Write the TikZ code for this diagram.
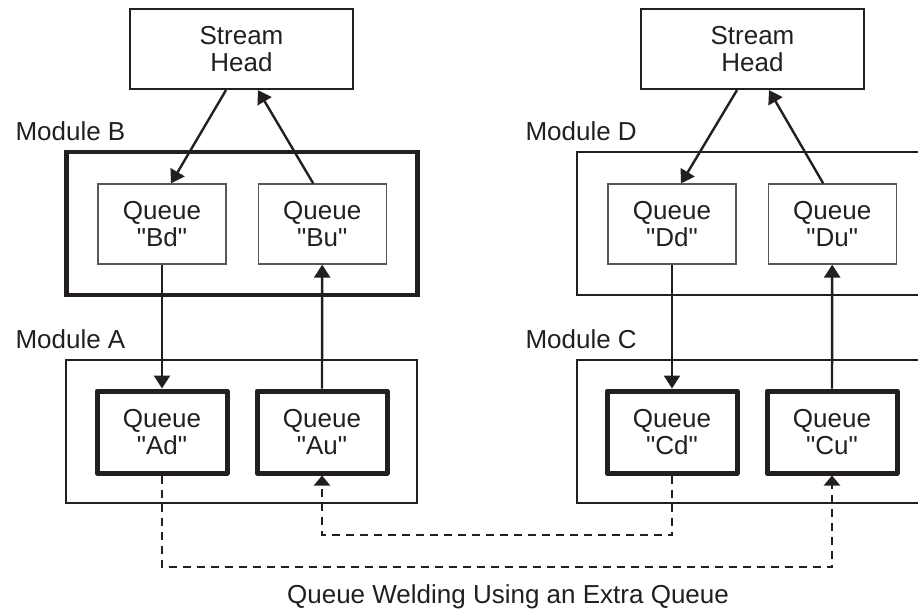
\documentclass[tikz,border=0pt]{standalone}
\usepackage{fontspec}
\setmainfont{Liberation Sans}[Ligatures=TeXOff]
\usetikzlibrary{arrows.meta, positioning}
\definecolor{ink}{RGB}{35,31,32}

\begin{document}
\begin{tikzpicture}[
  x=1pt, y=1pt,
  every node/.style={font=\fontsize{26}{27}\selectfont, text=ink},
  head/.style={draw=ink, line width=2.2pt, minimum width=223pt,
               minimum height=80pt, align=center, inner sep=0pt},
  queue/.style={draw=ink!75, line width=1.2pt, minimum width=128pt,
                minimum height=80pt, align=center, inner sep=0pt},
  qthick/.style={queue, draw=ink, line width=5pt, line join=round,
                 minimum width=130pt, minimum height=82pt},
  module/.style={draw=ink, line width=2.2pt, minimum width=351pt,
                 minimum height=143pt, inner sep=0pt, outer sep=0pt},
  modthick/.style={module, line width=4.5pt},
  modlbl/.style={anchor=base west},
  arrow/.style={-{Triangle[length=13pt,width=16pt]}, line width=2.4pt, draw=ink},
  welded/.style={-{Triangle[length=10pt,width=16pt]}, line width=2.2pt, draw=ink,
                 dash pattern=on 8pt off 6pt},
]
\useasboundingbox (0,0) rectangle (918,-610);
\clip (0,0) rectangle (918,-610);

% modules
\node[modthick] (modB) at (242,-223.5) {};
\node[module]   (modA) at (241.5,-431.5) {};
\node[module, minimum width=360pt] (modD) at (757,-223.5) {};
\node[module, minimum width=360pt] (modC) at (757,-431.5) {};

\node[modlbl] (lblB) at (12,-140)  {Module B};
\node[modlbl] (lblA) at (12,-348)  {Module A};
\node[modlbl] (lblD) at (522,-140) {Module D};
\node[modlbl] (lblC) at (522,-348) {Module C};

% stream heads
\node[head] (headL) at (241.5,-49) {Stream\\Head};
\node[head] (headR) at (752.5,-49) {Stream\\Head};

% queues
\node[queue] (bd) at (162,-224) {Queue\\"Bd"};
\node[queue, right=31pt of bd] (bu) {Queue\\"Bu"};
\node[queue] (dd) at (672,-224) {Queue\\"Dd"};
\node[queue, right=31pt of dd] (du) {Queue\\"Du"};

\node[qthick] (ad) at (162,-432) {Queue\\"Ad"};
\node[qthick, right=25pt of ad] (au) {Queue\\"Au"};
\node[qthick] (cd) at (672,-432) {Queue\\"Cd"};
\node[qthick, right=25pt of cd] (cu) {Queue\\"Cu"};

\draw[arrow] ([xshift=-15.5pt]headL.south) -- ([xshift=9pt]bd.north);
\draw[arrow] ([xshift=-9pt]bu.north) -- ([xshift=16.5pt]headL.south);
\draw[arrow] ([xshift=-15.5pt]headR.south) -- ([xshift=9pt]dd.north);
\draw[arrow] ([xshift=-9pt]du.north) -- ([xshift=16.5pt]headR.south);

\draw[arrow] (bd.south) -- (ad.north);
\draw[arrow] (au.north) -- (bu.south);
\draw[arrow] (dd.south) -- (cd.north);
\draw[arrow] (cu.north) -- (du.south);

% welding through the extra queue
\coordinate (highbus) at (0,-535);
\coordinate (lowbus)  at (0,-567);
\draw[welded] (ad.south) -- (ad.south |- lowbus) -| (cu.south);
\draw[welded] (cd.south) -- (cd.south |- highbus) -| (au.south);

\node[anchor=base] (caption) at (508,-603) {Queue Welding Using an Extra Queue};
\end{tikzpicture}
\end{document}
